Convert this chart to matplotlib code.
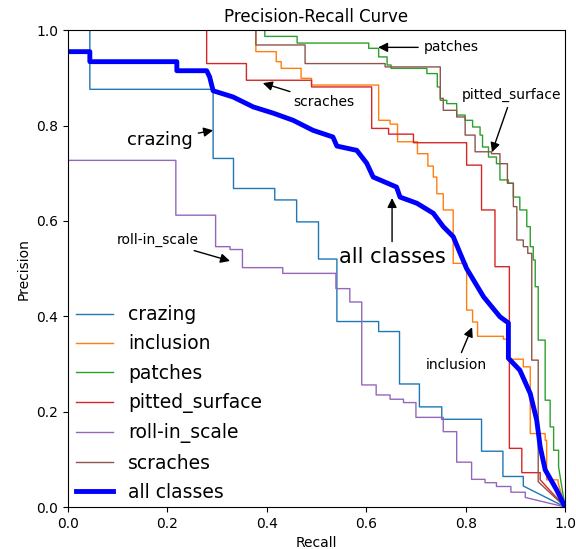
import matplotlib
matplotlib.use("Agg")
import matplotlib.pyplot as plt

# step points: recall where precision drops, precision after the drop
crazing_r = [0, 0.044, 0.292, 0.333, 0.416, 0.460, 0.504, 0.541, 0.625, 0.667, 0.707, 0.752, 0.832, 0.875, 0.916]
crazing_p = [1.0, 0.876, 0.731, 0.668, 0.644, 0.598, 0.520, 0.389, 0.368, 0.258, 0.210, 0.184, 0.117, 0.064, 0.044]

inclusion_r = [0, 0.378, 0.419, 0.429, 0.469, 0.490, 0.625, 0.648, 0.663, 0.703, 0.724, 0.735, 0.742, 0.755,
               0.775, 0.802, 0.814, 0.824, 0.876, 0.886, 0.916, 0.930, 0.960, 0.963, 0.986]
inclusion_p = [1.0, 0.955, 0.934, 0.920, 0.899, 0.885, 0.811, 0.803, 0.766, 0.741, 0.715, 0.692, 0.657, 0.623,
               0.511, 0.413, 0.388, 0.358, 0.352, 0.310, 0.294, 0.154, 0.140, 0.057, 0.051]

patches_r = [0, 0.396, 0.461, 0.605, 0.625, 0.642, 0.650, 0.722, 0.743, 0.749, 0.762, 0.782, 0.799, 0.814, 0.829,
             0.834, 0.846, 0.862, 0.869, 0.886, 0.896, 0.909, 0.923, 0.930, 0.936, 0.940, 0.946, 0.960, 0.970,
             0.977, 0.987]
patches_p = [1.0, 0.987, 0.973, 0.962, 0.944, 0.927, 0.920, 0.909, 0.881, 0.853, 0.846, 0.822, 0.811, 0.797, 0.780,
             0.755, 0.734, 0.720, 0.686, 0.679, 0.650, 0.623, 0.588, 0.546, 0.518, 0.462, 0.350, 0.224, 0.168,
             0.119, 0.084]

pitted_r = [0, 0.279, 0.359, 0.490, 0.611, 0.645, 0.695, 0.802, 0.832, 0.859, 0.888, 0.913, 0.950]
pitted_p = [1.0, 0.930, 0.895, 0.881, 0.794, 0.782, 0.764, 0.717, 0.623, 0.504, 0.123, 0.072, 0.057]

roll_r = [0, 0.217, 0.297, 0.326, 0.351, 0.432, 0.539, 0.567, 0.591, 0.620, 0.648, 0.675, 0.700, 0.755, 0.782,
          0.812, 0.839, 0.862, 0.891, 0.920]
roll_p = [0.727, 0.612, 0.546, 0.540, 0.502, 0.490, 0.458, 0.430, 0.256, 0.235, 0.226, 0.219, 0.188, 0.158, 0.094,
          0.058, 0.051, 0.043, 0.031, 0.020]

scraches_r = [0, 0.378, 0.477, 0.638, 0.749, 0.755, 0.782, 0.799, 0.819, 0.852, 0.869, 0.884, 0.896, 0.903,
              0.916, 0.925, 0.933, 0.946]
scraches_p = [1.0, 0.969, 0.930, 0.923, 0.857, 0.832, 0.818, 0.780, 0.745, 0.741, 0.720, 0.679, 0.630, 0.560,
              0.546, 0.532, 0.308, 0.053]

# mean curve, drawn as a plain polyline
all_r = [0, 0.044, 0.044, 0.219, 0.219, 0.279, 0.285, 0.292, 0.332, 0.373, 0.413, 0.453, 0.493, 0.533, 0.541,
         0.581, 0.601, 0.614, 0.661, 0.668, 0.702, 0.735, 0.755, 0.775, 0.789, 0.802, 0.836, 0.869, 0.886, 0.886,
         0.909, 0.930, 0.943, 0.950, 0.960, 0.983, 1.0]
all_p = [0.955, 0.955, 0.934, 0.934, 0.915, 0.915, 0.902, 0.873, 0.860, 0.839, 0.826, 0.811, 0.790, 0.776, 0.757,
         0.748, 0.721, 0.692, 0.671, 0.650, 0.637, 0.616, 0.588, 0.567, 0.532, 0.500, 0.441, 0.399, 0.386, 0.312,
         0.287, 0.238, 0.182, 0.126, 0.078, 0.036, 0.0]


def stair(r, p):
    xs, ys = [r[0]], [p[0]]
    for i in range(1, len(r)):
        xs += [r[i], r[i]]
        ys += [p[i - 1], p[i]]
    xs.append(1.0)
    ys.append(0.0)
    return xs, ys


fig = plt.figure(figsize=(5.76, 5.49), dpi=100)
ax = fig.add_axes([0.118, 0.0765, 0.863, 0.8685])

curves = [("crazing", crazing_r, crazing_p), ("inclusion", inclusion_r, inclusion_p),
          ("patches", patches_r, patches_p), ("pitted_surface", pitted_r, pitted_p),
          ("roll-in_scale", roll_r, roll_p), ("scraches", scraches_r, scraches_p)]
for name, r, p in curves:
    x, y = stair(r, p)
    ax.plot(x, y, linewidth=1, label=name)
ax.plot(all_r, all_p, linewidth=3.5, color="blue", label="all classes")

arrow = dict(arrowstyle="-|>", color="black", lw=1, mutation_scale=14, shrinkA=2, shrinkB=0)
ax.annotate("crazing", xy=(0.292, 0.79), xytext=(0.185, 0.769), fontsize=13,
            ha="center", va="center", arrowprops=arrow)
ax.annotate("roll-in_scale", xy=(0.326, 0.516), xytext=(0.18, 0.56), fontsize=10,
            ha="center", va="center", arrowprops=arrow)
ax.annotate("scraches", xy=(0.392, 0.889), xytext=(0.515, 0.849), fontsize=10,
            ha="center", va="center", arrowprops=arrow)
ax.annotate("patches", xy=(0.624, 0.964), xytext=(0.771, 0.964), fontsize=10,
            ha="center", va="center", arrowprops=arrow)
ax.annotate("pitted_surface", xy=(0.853, 0.744), xytext=(0.893, 0.864), fontsize=10,
            ha="center", va="center", arrowprops=arrow)
ax.annotate("inclusion", xy=(0.813, 0.377), xytext=(0.781, 0.298), fontsize=10,
            ha="center", va="center", arrowprops=arrow)
ax.annotate("all classes", xy=(0.652, 0.648), xytext=(0.652, 0.524), fontsize=15,
            ha="center", va="center", arrowprops=arrow)

ax.set_xlim(0, 1)
ax.set_ylim(0, 1)
ax.set_xlabel("Recall")
ax.set_ylabel("Precision")
ax.set_title("Precision-Recall Curve")
ax.legend(loc="lower left", bbox_to_anchor=(-0.018, -0.025), frameon=False, fontsize=13.5, labelspacing=0.55)
fig.savefig("out.png", dpi=100)
